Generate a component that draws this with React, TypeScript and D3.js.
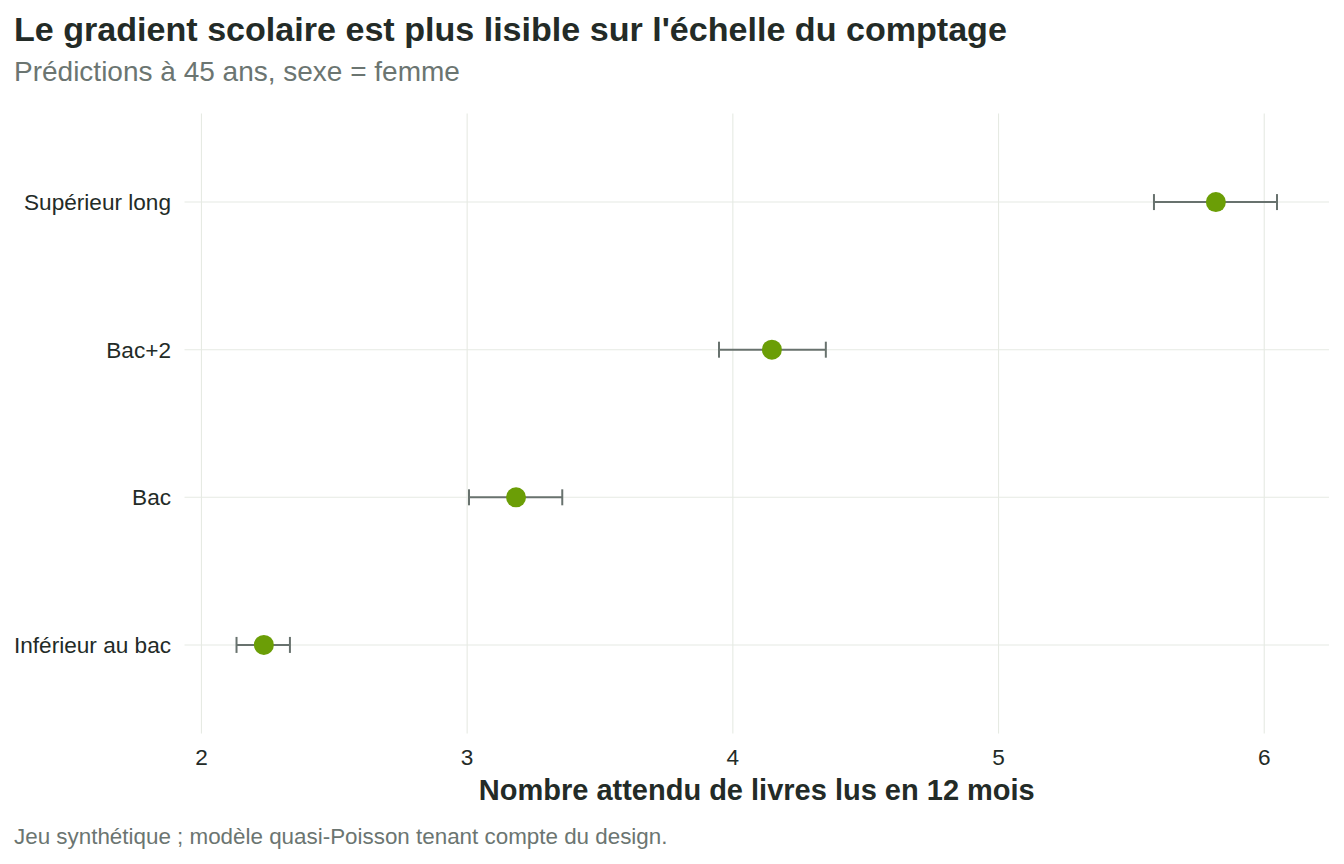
import * as d3 from 'd3';

// Prédictions (quasi-Poisson), femme, 45 ans
const categories = ['Inférieur au bac', 'Bac', 'Bac+2', 'Supérieur long'];
const estimates = [2.235, 3.184, 4.147, 5.818];
const lower = [2.132, 3.007, 3.948, 5.585];
const upper = [2.333, 3.358, 4.35, 6.048];
const xTicks = [2, 3, 4, 5, 6];

const W = 1344;
const H = 864;
const PANEL = { left: 184.5, right: 1329, top: 113.5, bottom: 733.5 };

const FONT = '"Liberation Sans", Arial, Helvetica, sans-serif';
const INK = '#232b27';
const GREY = '#6b7571';
const GRID = '#e6eae3';
const POINT = '#6b9e06';
const BAR = '#68726e';

export default function App() {
  const lo = d3.min(lower)!;
  const hi = d3.max(upper)!;
  const pad = (hi - lo) * 0.05;
  const x = d3.scaleLinear().domain([lo - pad, hi + pad]).range([PANEL.left, PANEL.right]);

  // discrete axis with ggplot-style expansion (0.6 units each side)
  const y = d3
    .scaleLinear()
    .domain([0.4, categories.length + 0.6])
    .range([PANEL.bottom, PANEL.top]);

  const rows = categories.map((c, i) => ({
    cat: c,
    pos: i + 1,
    est: estimates[i],
    lo: lower[i],
    hi: upper[i],
  }));

  return (
    <svg width={W} height={H} style={{ display: 'block', margin: -8, fontFamily: FONT }}>
      <rect width={W} height={H} fill="#ffffff" />

      <text x={14} y={41} fontSize={34.1} fontWeight="bold" fill={INK}>
        Le gradient scolaire est plus lisible sur l'échelle du comptage
      </text>
      <text x={14} y={81} fontSize={28} fill={GREY}>
        Prédictions à 45 ans, sexe = femme
      </text>

      {/* grid */}
      {xTicks.map((t) => (
        <line key={'gx' + t} x1={x(t)} x2={x(t)} y1={PANEL.top} y2={PANEL.bottom} stroke={GRID} strokeWidth={1.1} />
      ))}
      {rows.map((r) => (
        <line key={'gy' + r.cat} x1={PANEL.left} x2={PANEL.right} y1={y(r.pos)} y2={y(r.pos)} stroke={GRID} strokeWidth={1.1} />
      ))}

      {/* y labels */}
      {rows.map((r) => (
        <text key={'yl' + r.cat} x={171} y={y(r.pos)} dy="0.36em" textAnchor="end" fontSize={22.6} fill={INK}>
          {r.cat}
        </text>
      ))}

      {/* x tick labels */}
      {xTicks.map((t) => (
        <text key={'xl' + t} x={x(t)} y={765} textAnchor="middle" fontSize={22.6} fill={INK}>
          {t}
        </text>
      ))}

      {/* error bars */}
      {rows.map((r) => {
        const cy = y(r.pos);
        return (
          <g key={'eb' + r.cat} stroke={BAR} strokeWidth={2}>
            <line x1={x(r.lo)} x2={x(r.hi)} y1={cy} y2={cy} />
            <line x1={x(r.lo)} x2={x(r.lo)} y1={cy - 8} y2={cy + 8} />
            <line x1={x(r.hi)} x2={x(r.hi)} y1={cy - 8} y2={cy + 8} />
          </g>
        );
      })}

      {/* points */}
      {rows.map((r) => (
        <circle key={'pt' + r.cat} cx={x(r.est)} cy={y(r.pos)} r={10} fill={POINT} />
      ))}

      <text
        x={(PANEL.left + PANEL.right) / 2}
        y={800}
        textAnchor="middle"
        fontSize={29}
        fontWeight="bold"
        fill={INK}
      >
        Nombre attendu de livres lus en 12 mois
      </text>

      <text x={14} y={844} fontSize={22.4} fill={GREY}>
        Jeu synthétique ; modèle quasi-Poisson tenant compte du design.
      </text>
    </svg>
  );
}
